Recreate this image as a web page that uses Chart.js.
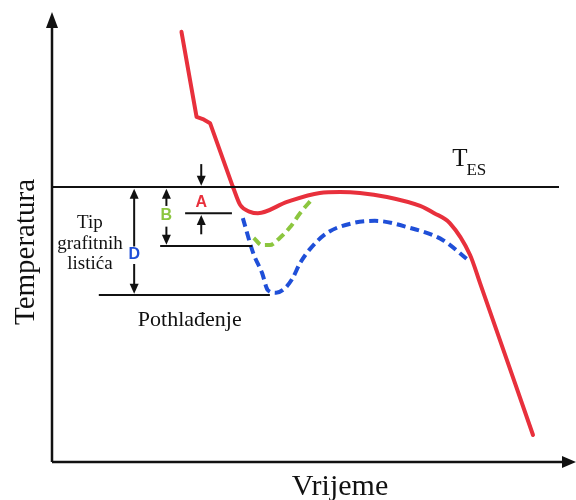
<!DOCTYPE html>
<html>
<head>
<meta charset="utf-8">
<script src="https://cdn.jsdelivr.net/npm/chart.js@4"></script>
<style>
  body { margin: 0; background: #fff; }
  canvas { display: block; }
</style>
</head>
<body>
<canvas id="chart" width="576" height="500"></canvas>
<script>
// schematic cooling curves, time (x) and temperature (y) both 0..100
// red: straight steep start, then the smooth part
const redSteep = [
  {x: 24.9, y: 95.6}, {x: 27.8, y: 76.7}, {x: 29.0, y: 76.2}, {x: 30.4, y: 75.3},
  {x: 34.8, y: 61.1}
];
const redCurve = [
  {x: 34.8, y: 61.1}, {x: 36.2, y: 57.1}, {x: 38.1, y: 55.6}, {x: 39.6, y: 55.3},
  {x: 45.2, y: 57.8}, {x: 51.5, y: 59.8}, {x: 55.4, y: 60.0}, {x: 59.2, y: 59.8},
  {x: 64.4, y: 58.9}, {x: 70.8, y: 56.9}, {x: 73.5, y: 55.3}, {x: 76.5, y: 53.1},
  {x: 80.4, y: 46.0}, {x: 82.3, y: 39.8}, {x: 92.5, y: 6.0}
];
const blueCurve = [
  {x: 36.7, y: 54.2}, {x: 38.7, y: 46.4}, {x: 40.4, y: 42.0}, {x: 41.5, y: 38.2},
  {x: 43.1, y: 37.6}, {x: 44.6, y: 38.4}, {x: 46.2, y: 40.7}, {x: 47.7, y: 44.2},
  {x: 49.6, y: 47.3}, {x: 52.9, y: 50.9}, {x: 57.9, y: 53.1}, {x: 62.1, y: 53.6},
  {x: 68.3, y: 52.2}, {x: 75.2, y: 49.3}, {x: 80.0, y: 44.9}
];
const greenCurve = [
  {x: 38.8, y: 49.8}, {x: 40.4, y: 48.2}, {x: 41.9, y: 48.2}, {x: 43.8, y: 49.8},
  {x: 45.8, y: 52.2}, {x: 47.7, y: 55.3}, {x: 50.0, y: 58.4}
];
// horizontal reference levels [y, xFrom, xTo]
const tesLine = [61.1, 0, 97.5];
const levelA = [55.3, 25.6, 34.6];
const levelB = [48.0, 20.8, 38.5];
const levelD = [37.1, 9.0, 41.9];

// labels: [text, x, y, colour]
const markLabels = [["A", 28.7, 57.7, "#e8303c"], ["B", 22.0, 54.7, "#8cc63f"], ["D", 15.8, 46.0, "#1f4fd8"]];
const sideText = [["Tip", 7.3, 52.0], ["grafitnih", 7.3, 47.3], ["listića", 7.3, 42.8]];
const underText = ["Pothlađenje", 26.5, 30.2];
const tesText = ["T", "ES", 78.5, 65.8];
const yTitle = "Temperatura";
const xTitle = "Vrijeme";

function hline(l) {
  return {
    data: [{x: l[1], y: l[0]}, {x: l[2], y: l[0]}],
    borderColor: "#111", borderWidth: 2, pointRadius: 0, tension: 0
  };
}

const overlay = {
  id: "overlay",
  afterDatasetsDraw(chart) {
    const ctx = chart.ctx;
    const xs = chart.scales.x, ys = chart.scales.y;
    const a = chart.chartArea;
    const X = v => xs.getPixelForValue(v), Y = v => ys.getPixelForValue(v);
    ctx.save();
    ctx.strokeStyle = "#111";
    ctx.fillStyle = "#111";

    // axes with arrows
    ctx.lineWidth = 2.5;
    ctx.beginPath();
    ctx.moveTo(a.left, a.bottom); ctx.lineTo(a.left, 24);
    ctx.moveTo(a.left, a.bottom); ctx.lineTo(566, a.bottom);
    ctx.stroke();
    ctx.beginPath();
    ctx.moveTo(a.left, 12); ctx.lineTo(a.left - 6, 28); ctx.lineTo(a.left + 6, 28); ctx.closePath();
    ctx.fill();
    ctx.beginPath();
    ctx.moveTo(576, a.bottom); ctx.lineTo(562, a.bottom - 6); ctx.lineTo(562, a.bottom + 6); ctx.closePath();
    ctx.fill();

    // small arrows
    function arrow(x, y0, y1) {
      const px = X(x), p0 = Y(y0), p1 = Y(y1);
      const dir = p1 > p0 ? 1 : -1;
      ctx.lineWidth = 2;
      ctx.beginPath();
      ctx.moveTo(px, p0); ctx.lineTo(px, p1 - dir * 8);
      ctx.stroke();
      ctx.beginPath();
      ctx.moveTo(px, p1); ctx.lineTo(px - 4.5, p1 - dir * 10); ctx.lineTo(px + 4.5, p1 - dir * 10); ctx.closePath();
      ctx.fill();
    }
    arrow(28.7, 66.2, tesLine[0] + 0.3);
    arrow(28.7, 50.6, levelA[0] - 0.4);
    arrow(22.0, 56.9, tesLine[0] - 0.4);
    arrow(22.0, 52.3, levelB[0] + 0.3);
    arrow(15.8, 47.9, tesLine[0] - 0.4);
    arrow(15.8, 44.0, levelD[0] + 0.3);

    // mark letters
    ctx.textAlign = "center";
    ctx.textBaseline = "middle";
    markLabels.forEach(m => {
      ctx.fillStyle = m[3];
      ctx.font = "bold 16px 'Liberation Sans'";
      ctx.fillText(m[0], X(m[1]), Y(m[2]));
    });

    // texts
    ctx.fillStyle = "#111";
    ctx.textBaseline = "alphabetic";
    ctx.font = "19px 'Liberation Serif'";
    sideText.forEach(t => ctx.fillText(t[0], X(t[1]), Y(t[2])));
    ctx.font = "22px 'Liberation Serif'";
    ctx.fillText(underText[0], X(underText[1]), Y(underText[2]));

    ctx.textAlign = "left";
    ctx.font = "25px 'Liberation Serif'";
    const tx = X(tesText[2]) - 8, ty = Y(tesText[3]);
    ctx.fillText(tesText[0], tx, ty);
    const tw = ctx.measureText(tesText[0]).width;
    ctx.font = "17px 'Liberation Serif'";
    ctx.fillText(tesText[1], tx + tw - 1, ty + 9);

    ctx.textAlign = "center";
    ctx.font = "30px 'Liberation Serif'";
    ctx.fillText(xTitle, 340, 495);
    ctx.save();
    ctx.translate(34, 252);
    ctx.rotate(-Math.PI / 2);
    ctx.font = "29px 'Liberation Serif'";
    ctx.fillText(yTitle, 0, 0);
    ctx.restore();

    ctx.restore();
  }
};

const dashed = {borderWidth: 4, borderDash: [9, 5], pointRadius: 0, cubicInterpolationMode: "monotone"};

new Chart(document.getElementById("chart").getContext("2d"), {
  type: "line",
  data: {
    datasets: [
      hline(tesLine), hline(levelA), hline(levelB), hline(levelD),
      Object.assign({data: greenCurve, borderColor: "#8cc63f"}, dashed),
      Object.assign({data: blueCurve, borderColor: "#1f4fd8"}, dashed),
      {data: redSteep, borderColor: "#e8303c", borderWidth: 4, borderCapStyle: "round",
       borderJoinStyle: "round", pointRadius: 0, tension: 0},
      {data: redCurve, borderColor: "#e8303c", borderWidth: 4, borderCapStyle: "round",
       borderJoinStyle: "round", pointRadius: 0, cubicInterpolationMode: "monotone"}
    ]
  },
  options: {
    responsive: false,
    animation: false,
    layout: {padding: {left: 52, right: 4, top: 12, bottom: 38}},
    plugins: {legend: {display: false}, tooltip: {enabled: false}},
    scales: {
      x: {type: "linear", min: 0, max: 100, display: false},
      y: {type: "linear", min: 0, max: 100, display: false}
    }
  },
  plugins: [overlay]
});
</script>
</body>
</html>
